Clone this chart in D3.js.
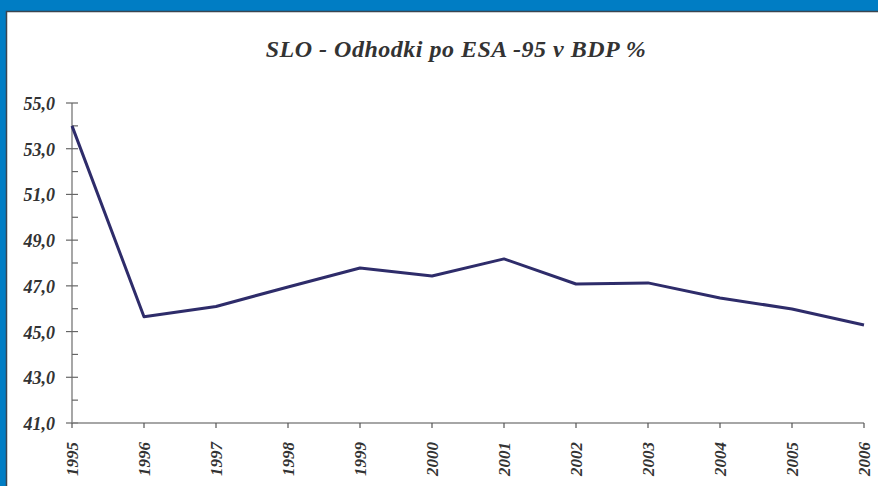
<!DOCTYPE html>
<html>
<head>
<meta charset="utf-8">
<script src="https://cdn.jsdelivr.net/npm/d3@7"></script>
<style>
  body { margin: 0; background: #007dc4; }
  svg { display: block; }
</style>
</head>
<body>
<div id="chart"></div>
<script>
// data
const years = ["1995", "1996", "1997", "1998", "1999", "2000", "2001", "2002", "2003", "2004", "2005", "2006"];
const spending = [54.0, 45.65, 46.1, 46.95, 47.78, 47.43, 48.18, 47.08, 47.13, 46.47, 45.99, 45.29];
const yTicks = [41, 43, 45, 47, 49, 51, 53, 55];
const chartTitle = "SLO - Odhodki po ESA -95 v BDP %";

const W = 878, H = 486;

const svg = d3.select("#chart").append("svg")
    .attr("width", W)
    .attr("height", H);

// white panel with dark edge
svg.append("rect")
    .attr("x", 6.5).attr("y", 11.5)
    .attr("width", W).attr("height", H)
    .attr("fill", "#fff")
    .attr("stroke", "#3a4550")
    .attr("stroke-width", 1.5);

const margin = { left: 72, right: 14, top: 103, bottom: 63 };

const x = d3.scalePoint()
    .domain(years)
    .range([margin.left, W - margin.right]);

const y = d3.scaleLinear()
    .domain([41, 55])
    .range([H - margin.bottom, margin.top]);

function lbl(sel, size) {
    return sel.attr("font-family", "'Liberation Serif'")
        .attr("font-style", "italic")
        .attr("font-weight", "bold")
        .attr("font-size", size)
        .attr("fill", "#333");
}

svg.append("text")
    .attr("x", 456).attr("y", 57)
    .attr("text-anchor", "middle")
    .attr("letter-spacing", 0.5)
    .call(lbl, 24)
    .text(chartTitle);

// y axis: major ticks crossing, minor ticks inside
const yAxis = svg.append("g");
yAxis.append("line")
    .attr("x1", margin.left).attr("x2", margin.left)
    .attr("y1", y(55)).attr("y2", y(41))
    .attr("stroke", "#777").attr("stroke-width", 1.3);
yAxis.selectAll(".major").data(yTicks).enter().append("line")
    .attr("x1", margin.left - 6).attr("x2", margin.left + 6)
    .attr("y1", d => y(d)).attr("y2", d => y(d))
    .attr("stroke", "#666").attr("stroke-width", 1.2);
yAxis.selectAll(".minor").data(d3.range(42, 55, 2)).enter().append("line")
    .attr("x1", margin.left).attr("x2", margin.left + 6)
    .attr("y1", d => y(d)).attr("y2", d => y(d))
    .attr("stroke", "#666").attr("stroke-width", 1.2);
yAxis.selectAll("text").data(yTicks).enter().append("text")
    .attr("x", 55).attr("y", d => y(d) + 7)
    .attr("text-anchor", "end")
    .call(lbl, 18)
    .text(d => d3.format(".1f")(d).replace(".", ","));

// x axis
const xAxis = svg.append("g");
xAxis.append("line")
    .attr("x1", margin.left).attr("x2", W - margin.right)
    .attr("y1", y(41)).attr("y2", y(41))
    .attr("stroke", "#888").attr("stroke-width", 1.3);
xAxis.selectAll(".tick").data(years).enter().append("line")
    .attr("x1", d => x(d)).attr("x2", d => x(d))
    .attr("y1", y(41)).attr("y2", y(41) + 5)
    .attr("stroke", "#555").attr("stroke-width", 1.2);
xAxis.selectAll("text").data(years).enter().append("text")
    .attr("transform", d => "translate(" + (x(d) + 6) + "," + (y(41) + 19) + ") rotate(-90)")
    .attr("text-anchor", "end")
    .call(lbl, 17)
    .text(d => d);

// series line
const line = d3.line()
    .x((d, i) => x(years[i]))
    .y(d => y(d));
svg.append("path")
    .datum(spending)
    .attr("d", line)
    .attr("fill", "none")
    .attr("stroke", "#2e2c6a")
    .attr("stroke-width", 3)
    .attr("stroke-linejoin", "round");
</script>
</body>
</html>
